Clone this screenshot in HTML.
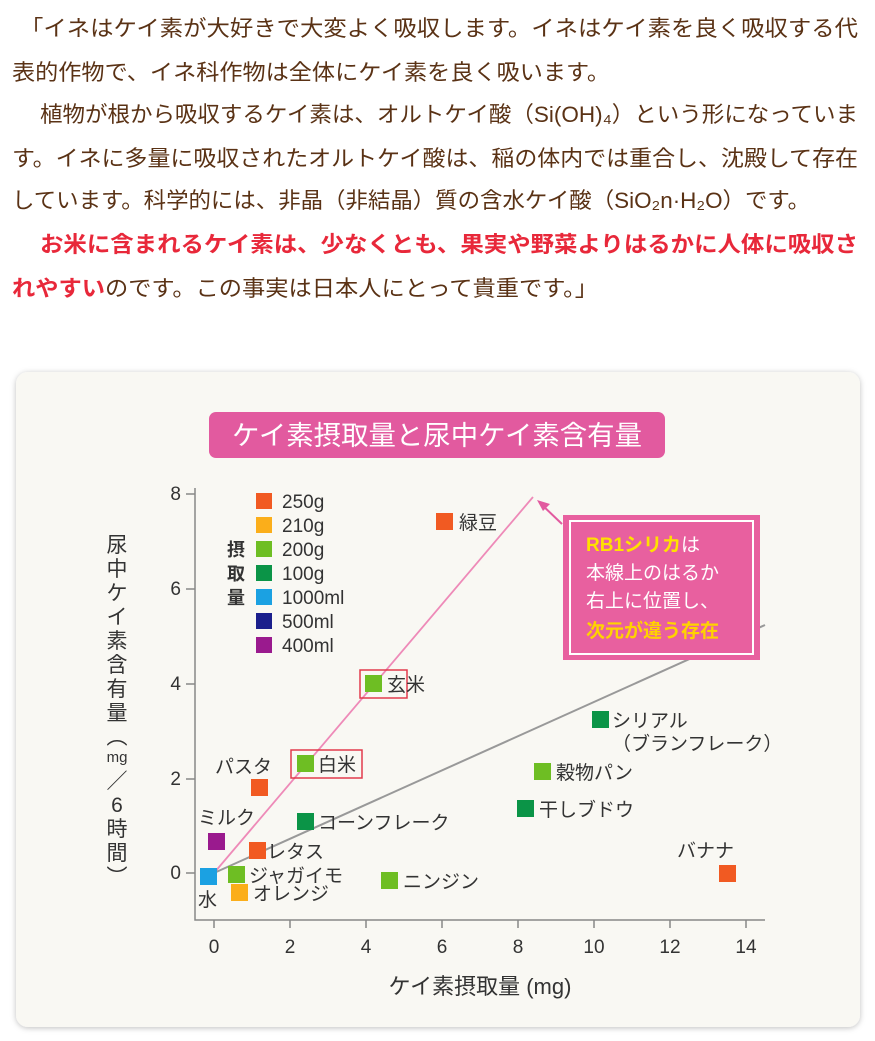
<!DOCTYPE html>
<html><head><meta charset="utf-8"><style>
html,body{margin:0;padding:0;background:#fff;width:875px;height:1041px;overflow:hidden}
svg{display:block}
.b{font-family:"Liberation Sans","Noto Sans CJK JP",sans-serif;font-size:22px;fill:#5a3215}
.r{fill:#e8283a;font-weight:bold}
.t{font-family:"Liberation Sans","Noto Sans CJK JP",sans-serif;fill:#333}
</style></head><body>
<svg width="875" height="1041" viewBox="0 0 875 1041">
<defs><filter id="sh" x="-5%" y="-5%" width="110%" height="110%"><feDropShadow dx="0" dy="1" stdDeviation="3" flood-color="#000" flood-opacity="0.25"/></filter></defs>
<rect width="875" height="1041" fill="#fff"/>
<g class="b">
<text x="20" y="36" textLength="838" lengthAdjust="spacingAndGlyphs">「イネはケイ素が大好きで大変よく吸収します。イネはケイ素を良く吸収する代</text>
<text x="12" y="80" textLength="598" lengthAdjust="spacingAndGlyphs">表的作物で、イネ科作物は全体にケイ素を良く吸います。</text>
<text x="40" y="122" textLength="818" lengthAdjust="spacingAndGlyphs">植物が根から吸収するケイ素は、オルトケイ酸（Si(OH)₄）という形になっていま</text>
<text x="12" y="166" textLength="846" lengthAdjust="spacingAndGlyphs">す。イネに多量に吸収されたオルトケイ酸は、稲の体内では重合し、沈殿して存在</text>
<text x="12" y="208" textLength="798" lengthAdjust="spacingAndGlyphs">しています。科学的には、非晶（非結晶）質の含水ケイ酸（SiO₂n·H₂O）です。</text>
<text x="40" y="252" textLength="818" lengthAdjust="spacingAndGlyphs"><tspan class="r">お米に含まれるケイ素は、少なくとも、果実や野菜よりはるかに人体に吸収さ</tspan></text>
<text x="12" y="296" textLength="586" lengthAdjust="spacingAndGlyphs"><tspan class="r">れやすい</tspan>のです。この事実は日本人にとって貴重です。」</text>
</g>
<rect x="16" y="372" width="844" height="655" rx="12" fill="#f9f8f3" filter="url(#sh)"/>
<rect x="209" y="412" width="456" height="46" rx="7" fill="#e25a9f"/>
<text x="437" y="445" text-anchor="middle" class="t" style="font-size:27px;fill:#fff" textLength="410" lengthAdjust="spacingAndGlyphs">ケイ素摂取量と尿中ケイ素含有量</text>
<g stroke="#888" stroke-width="1.5" fill="none">
<path d="M195 488V920H765"/>
<path d="M186 494H195M186 589H195M186 684H195M186 779H195M186 873H195"/>
<path d="M214 920V928M290 920V928M366 920V928M442 920V928M518 920V928M594 920V928M670 920V928M746 920V928"/>
</g>
<g class="t" style="font-size:19px" text-anchor="end">
<text x="181" y="500">8</text><text x="181" y="595">6</text><text x="181" y="690">4</text><text x="181" y="785">2</text><text x="181" y="879">0</text>
</g>
<g class="t" style="font-size:19px" text-anchor="middle">
<text x="214" y="953">0</text><text x="290" y="953">2</text><text x="366" y="953">4</text><text x="442" y="953">6</text><text x="518" y="953">8</text><text x="594" y="953">10</text><text x="670" y="953">12</text><text x="746" y="953">14</text>
</g>
<text x="480" y="994" text-anchor="middle" class="t" style="font-size:22px">ケイ素摂取量 (mg)</text>
<g class="t" style="font-size:21px" text-anchor="middle">
<text x="117" y="552">尿</text><text x="117" y="576">中</text><text x="117" y="600">ケ</text><text x="117" y="624">イ</text><text x="117" y="648">素</text><text x="117" y="672">含</text><text x="117" y="696">有</text><text x="117" y="720">量</text><text x="117" y="744">︵</text><text x="117" y="762" style="font-size:15px">mg</text><text x="117" y="788">／</text><text x="117" y="812">6</text><text x="117" y="836">時</text><text x="117" y="860">間</text><text x="117" y="884">︶</text>
</g>
<line x1="214" y1="873" x2="533" y2="497" stroke="#ee8ab8" stroke-width="1.8"/>
<line x1="214" y1="873" x2="765" y2="625" stroke="#999" stroke-width="2"/>
<g class="t" style="font-size:18px;font-weight:bold" text-anchor="middle"><text x="236" y="556">摂</text><text x="236" y="580">取</text><text x="236" y="604">量</text></g>
<g>
<rect x="256" y="493" width="16" height="16" fill="#f15a22"/>
<rect x="256" y="517" width="16" height="16" fill="#fbae1a"/>
<rect x="256" y="541" width="16" height="16" fill="#6ebe23"/>
<rect x="256" y="565" width="16" height="16" fill="#0b9447"/>
<rect x="256" y="589" width="16" height="16" fill="#1ba1e2"/>
<rect x="256" y="613" width="16" height="16" fill="#1b1f8c"/>
<rect x="256" y="637" width="16" height="16" fill="#9a1a8e"/>
</g>
<g class="t" style="font-size:19px">
<text x="282" y="508">250g</text><text x="282" y="532">210g</text><text x="282" y="556">200g</text><text x="282" y="580">100g</text><text x="282" y="604">1000ml</text><text x="282" y="628">500ml</text><text x="282" y="652">400ml</text>
</g>
<rect x="360" y="670" width="47" height="28" fill="none" stroke="#e23a4c" stroke-width="1.5"/>
<rect x="291" y="750" width="71" height="28" fill="none" stroke="#e23a4c" stroke-width="1.5"/>
<g>
<rect x="436" y="513" width="17" height="17" fill="#f15a22"/>
<rect x="365" y="675" width="17" height="17" fill="#6ebe23"/>
<rect x="297" y="755" width="17" height="17" fill="#6ebe23"/>
<rect x="251" y="779" width="17" height="17" fill="#f15a22"/>
<rect x="592" y="711" width="17" height="17" fill="#0b9447"/>
<rect x="534" y="763" width="17" height="17" fill="#6ebe23"/>
<rect x="517" y="800" width="17" height="17" fill="#0b9447"/>
<rect x="297" y="813" width="17" height="17" fill="#0b9447"/>
<rect x="208" y="833" width="17" height="17" fill="#9a1a8e"/>
<rect x="249" y="842" width="17" height="17" fill="#f15a22"/>
<rect x="200" y="868" width="17" height="17" fill="#1ba1e2"/>
<rect x="228" y="866" width="17" height="17" fill="#6ebe23"/>
<rect x="231" y="884" width="17" height="17" fill="#fbae1a"/>
<rect x="381" y="872" width="17" height="17" fill="#6ebe23"/>
<rect x="719" y="865" width="17" height="17" fill="#f15a22"/>
</g>
<g class="t" style="font-size:19px">
<text x="459" y="529">緑豆</text>
<text x="387" y="691">玄米</text>
<text x="318" y="771">白米</text>
<text x="215" y="773">パスタ</text>
<text x="612" y="727">シリアル</text>
<text x="612" y="750">（ブランフレーク）</text>
<text x="556" y="779">穀物パン</text>
<text x="539" y="816">干しブドウ</text>
<text x="318" y="829">コーンフレーク</text>
<text x="198" y="824">ミルク</text>
<text x="267" y="858">レタス</text>
<text x="198" y="906">水</text>
<text x="249" y="882">ジャガイモ</text>
<text x="253" y="900">オレンジ</text>
<text x="403" y="888">ニンジン</text>
<text x="677" y="857">バナナ</text>
</g>
<line x1="562" y1="524" x2="540" y2="503" stroke="#e25a9f" stroke-width="2"/>
<path d="M537 500 L550 504 L543 511 Z" fill="#e25a9f"/>
<rect x="563" y="515" width="197" height="145" fill="#e8609f"/>
<rect x="570" y="521" width="183" height="133" fill="none" stroke="#fff" stroke-width="2"/>
<g class="t" style="font-size:19px;fill:#fff">
<text x="586" y="551"><tspan style="fill:#ffe100;font-weight:bold">RB1シリカ</tspan>は</text>
<text x="586" y="579">本線上のはるか</text>
<text x="586" y="607">右上に位置し、</text>
<text x="586" y="637" style="fill:#ffd200;font-weight:bold">次元が違う存在</text>
</g>
</svg>
</body></html>
